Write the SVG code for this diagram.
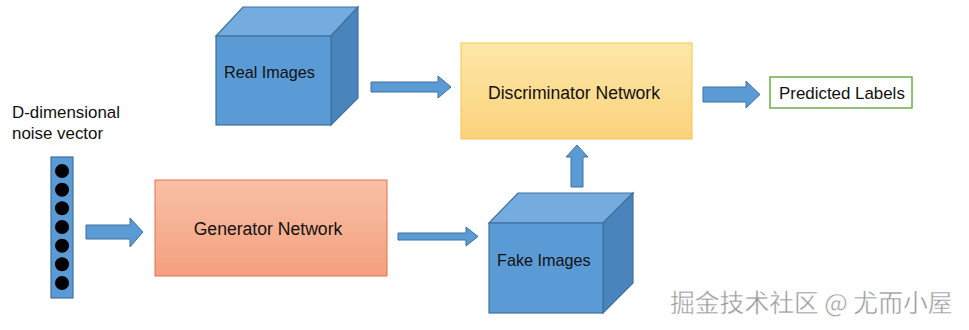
<svg xmlns="http://www.w3.org/2000/svg" width="969" height="330" viewBox="0 0 969 330">
<defs>
<linearGradient id="gY" x1="0" y1="0" x2="0" y2="1"><stop offset="0" stop-color="#fde8a8"/><stop offset="1" stop-color="#fbd27c"/></linearGradient>
<linearGradient id="gR" x1="0" y1="0" x2="0" y2="1"><stop offset="0" stop-color="#f9c0a6"/><stop offset="1" stop-color="#f4a07e"/></linearGradient>
</defs>
<style>
text{font-family:"Liberation Sans",Arial,sans-serif;font-size:15px;fill:#111}
.big{font-size:17.6px}
.mid{font-size:16.9px}
.cube{font-size:16.2px}
.front{fill:#5b9bd5;stroke:#41719c;stroke-width:1.2}
.top{fill:#74ace0;stroke:#41719c;stroke-width:1.2}
.side{fill:#4a84bd;stroke:#41719c;stroke-width:1.2}
.arr{fill:#5b9bd5;stroke:#41719c;stroke-width:1}
.dot{fill:#000}
.wm{font-family:"Noto Sans CJK SC",sans-serif;font-size:24.8px;fill:#9a9a9a;stroke:#fff;stroke-width:0.4}
</style>
<g id="noise">
<text class="mid" x="12" y="118">D-dimensional</text>
<text class="mid" x="12" y="139">noise vector</text>
<rect x="51" y="157" width="22" height="141" fill="#5b9bd5" stroke="#41719c" stroke-width="1.2"/>
<circle class="dot" cx="62" cy="171" r="7"/>
<circle class="dot" cx="62" cy="189.7" r="7"/>
<circle class="dot" cx="62" cy="208.3" r="7"/>
<circle class="dot" cx="62" cy="227" r="7"/>
<circle class="dot" cx="62" cy="245.7" r="7"/>
<circle class="dot" cx="62" cy="264.3" r="7"/>
<circle class="dot" cx="62" cy="283" r="7"/>
</g>
<g id="generator">
<rect x="155" y="180" width="232" height="96" fill="url(#gR)" stroke="#e2704f" stroke-width="1"/>
<text class="big" x="268" y="235" text-anchor="middle">Generator Network</text>
</g>
<g id="real">
<polygon class="top" points="216,36 243,7 358,7 331,36"/>
<polygon class="side" points="331,36 358,7 358,98 331,125"/>
<rect class="front" x="216" y="36" width="115" height="89"/>
<text class="cube" x="224" y="78">Real Images</text>
</g>
<g id="fake">
<polygon class="top" points="489,223 518,193 633,193 603,223"/>
<polygon class="side" points="603,223 633,193 633,283 603,313"/>
<rect class="front" x="489" y="223" width="114" height="90"/>
<text class="cube" x="497" y="266">Fake Images</text>
</g>
<g id="discriminator">
<rect x="461" y="43" width="231" height="96" fill="url(#gY)" stroke="#f4c74a" stroke-width="1"/>
<text class="big" x="574" y="99" text-anchor="middle">Discriminator Network</text>
</g>
<g id="labels">
<rect x="770" y="77" width="142" height="31" fill="#fff" stroke="#70ad47" stroke-width="1.5"/>
<text class="mid" x="779" y="99">Predicted Labels</text>
</g>
<g id="connectors">
<polygon class="arr" points="86,225 130,225 130,218 143,232 130,247 130,239 86,239"/>
<polygon class="arr" points="398,233 466,233 466,227 478,236.5 466,246 466,240 398,240"/>
<polygon class="arr" points="371,82 438,82 438,76 451,87 438,98 438,92 371,92"/>
<polygon class="arr" points="703,87 746,87 746,81 760,94.5 746,108 746,102 703,102"/>
<polygon class="arr" points="571,187 571,157 566,157 577,145 588,157 583,157 583,187"/>
</g>
<text class="wm" x="670" y="312">掘金技术社区 @ 尤而小屋</text>
</svg>
